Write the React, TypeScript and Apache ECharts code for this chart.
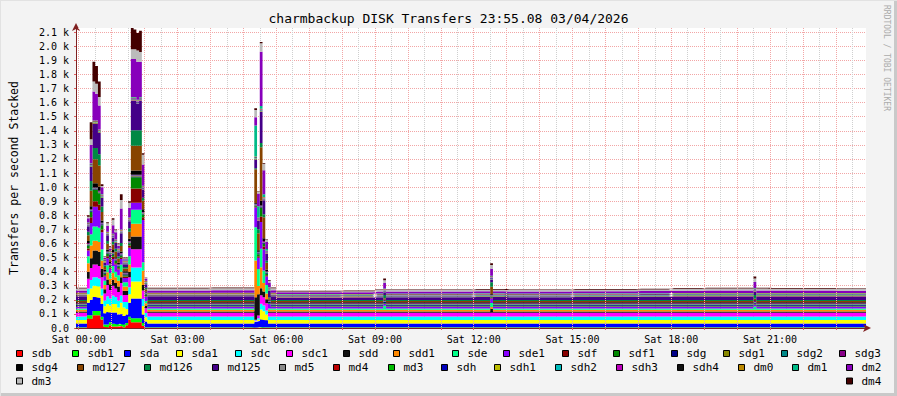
import React, { useEffect, useRef } from "react";
import * as echarts from "echarts";

// ---------------- data ----------------
const TITLE = "charmbackup DISK Transfers 23:55.08 03/04/2026";
const Y_NAME = "Transfers per second Stacked";
const WATERMARK = "RRDTOOL / TOBI OETIKER";

const SERIES_NAMES = [
  "sdb", "sdb1", "sda", "sda1", "sdc", "sdc1", "sdd", "sdd1", "sde", "sde1", "sdf", "sdf1",
  "sdg", "sdg1", "sdg2", "sdg3", "sdg4", "md127", "md126", "md125", "md5", "md4", "md3",
  "sdh", "sdh1", "sdh2", "sdh3", "sdh4", "dm0", "dm1", "dm2", "dm3", "dm4",
];

// typical rate (transfers/s) of each device in the quiet hours
const QUIET_RATE = [
  2, 4, 26, 25, 25, 27, 8, 12, 9, 12, 3, 5,
  6, 3, 3, 6, 6, 10, 7, 24, 3, 2, 2,
  3, 2, 2, 3, 3, 3, 3, 16, 12, 5,
];

// hour-by-hour levels of the upper bands (hour 0..23)
const HOURLY_MD125 = [26, 26, 26, 26, 26, 26, 16, 16, 17, 20, 20, 20, 21, 20, 20, 21, 21, 22, 24, 24, 24, 24, 24, 24];
const HOURLY_DM2 = [16, 16, 16, 16, 17, 17, 12, 12, 12, 14, 14, 14, 15, 14, 14, 15, 15, 15, 16, 17, 17, 17, 17, 16];
const HOURLY_DM3 = [14, 14, 14, 14, 15, 15, 6, 6, 7, 10, 10, 10, 11, 10, 10, 11, 11, 12, 14, 14, 14, 13, 13, 13];

// early-morning burst, 5-minute bins starting at bin 4 (00:15)
const BURST_1_START = 4;
const BURST_1: [string, number[]][] = [
  ["sdb", [70, 66, 90, 90, 90, 60, 10, 5, 20, 10, 10, 10, 15, 5, 20, 60, 40, 40, 40, 40, 16, 2]],
  ["sdb1", [20, 25, 30, 30, 30, 20, 15, 20, 20, 20, 20, 15, 15, 20, 15, 20, 30, 30, 30, 30, 20, 4]],
  ["sda", [90, 110, 100, 100, 95, 90, 80, 90, 70, 80, 80, 70, 70, 60, 60, 100, 140, 140, 140, 140, 60, 40]],
  ["sda1", [60, 80, 80, 80, 80, 60, 50, 55, 50, 60, 60, 50, 80, 60, 40, 60, 120, 120, 120, 120, 60, 30]],
  ["sdc", [40, 60, 60, 60, 56, 50, 40, 55, 50, 60, 50, 50, 50, 40, 50, 50, 100, 100, 100, 100, 50, 30]],
  ["sdc1", [70, 85, 90, 90, 90, 80, 50, 80, 60, 70, 60, 60, 90, 50, 50, 70, 130, 130, 130, 130, 60, 35]],
  ["sdd", [50, 70, 100, 100, 100, 60, 30, 40, 40, 40, 40, 40, 40, 30, 30, 40, 90, 90, 90, 90, 40, 15]],
  ["sdd1", [60, 90, 70, 70, 70, 60, 30, 50, 40, 50, 40, 40, 40, 30, 30, 50, 90, 90, 90, 90, 100, 20]],
  ["sde", [50, 80, 100, 100, 100, 80, 30, 50, 40, 50, 40, 40, 50, 30, 30, 60, 100, 100, 100, 100, 60, 15]],
  ["sde1", [40, 80, 140, 140, 125, 120, 30, 50, 30, 50, 50, 40, 40, 30, 30, 60, 50, 50, 50, 50, 300, 30]],
  ["sdf", [15, 40, 40, 40, 40, 20, 10, 15, 10, 15, 10, 10, 10, 10, 10, 15, 100, 100, 100, 100, 20, 5]],
  ["sdf1", [20, 40, 80, 80, 80, 30, 10, 15, 10, 15, 15, 10, 15, 10, 10, 15, 80, 80, 80, 80, 20, 8]],
  ["sdg4", [15, 20, 30, 30, 30, 15, 10, 15, 10, 15, 10, 10, 10, 10, 10, 15, 30, 30, 30, 30, 20, 8]],
  ["md127", [40, 110, 170, 170, 150, 60, 20, 40, 20, 40, 40, 30, 40, 20, 20, 50, 176, 176, 176, 176, 60, 15]],
  ["md126", [25, 70, 80, 80, 80, 40, 10, 20, 10, 20, 20, 15, 20, 10, 10, 25, 110, 110, 110, 110, 20, 10]],
  ["md125", [40, 100, 170, 170, 150, 60, 20, 40, 25, 30, 40, 30, 70, 20, 20, 50, 210, 210, 190, 210, 60, 25]],
  ["dm2", [30, 130, 206, 190, 170, 50, 10, 40, 15, 60, 50, 20, 150, 10, 10, 70, 270, 270, 270, 250, 150, 15]],
  ["dm3", [10, 40, 70, 70, 60, 10, 6, 20, 10, 40, 15, 10, 60, 6, 6, 35, 70, 70, 80, 70, 70, 8]],
  ["dm4", [11, 120, 140, 126, 110, 11, 5, 6, 6, 11, 6, 6, 41, 5, 5, 11, 150, 140, 125, 150, 10, 1]],
];

// burst around 05:30, bins starting at bin 65
const BURST_2_START = 65;
const BURST_2: [string, number[]][] = [
  ["sdb1", [2, 2, 5, 3, 3, 4]],
  ["sda", [40, 45, 55, 54, 50, 26]],
  ["sda1", [5, 10, 70, 60, 40, 25]],
  ["sdc", [5, 10, 40, 40, 30, 25]],
  ["sdc1", [5, 20, 60, 60, 50, 27]],
  ["sdd", [160, 150, 50, 40, 30, 8]],
  ["sdd1", [260, 60, 150, 60, 40, 12]],
  ["sde", [237, 120, 130, 90, 60, 9]],
  ["sde1", [140, 80, 190, 150, 60, 32]],
  ["sdf", [3, 10, 40, 20, 10, 3]],
  ["sdf1", [5, 15, 60, 20, 10, 5]],
  ["sdg4", [5, 10, 34, 20, 10, 6]],
  ["md127", [240, 120, 380, 150, 50, 10]],
  ["md126", [7, 30, 30, 20, 15, 7]],
  ["md125", [60, 60, 220, 100, 50, 44]],
  ["dm1", [220, 80, 20, 20, 10, 3]],
  ["dm2", [60, 90, 385, 170, 50, 34]],
  ["dm3", [50, 10, 60, 45, 15, 12]],
  ["dm4", [13, 5, 8, 5, 4, 5]],
];

// small single-bin bumps: [bin, device, extra rate]
const SMALL_BURSTS: [number, string, number][] = [
  [112, "sde", 20], [112, "md126", 15], [112, "dm2", 25], [112, "dm3", 10], [112, "dm4", 8],
  [151, "sdd", 20], [151, "sde", 20], [151, "sde1", 20], [151, "md127", 40], [151, "md126", 25],
  [151, "dm2", 35], [151, "dm3", 15], [151, "dm4", 8],
  [247, "sde", 15], [247, "md126", 20], [247, "dm2", 25], [247, "dm3", 12], [247, "dm4", 8],
];

const BIN_COUNT = 288;
const STEP_MINUTES = 5;
const START_MINUTE = -5;
const Y_MAX = 2130;
const Y_STEP = 100;

// ---------------- styles / layout ----------------
const SERIES_COLORS = [
  "#FF0000", "#00FF00", "#0000FF", "#FFFF00", "#00FFFF", "#FF00FF", "#111111", "#FF8800",
  "#00FF88", "#8800FF", "#880000", "#008800", "#000088", "#888800", "#008888", "#880088",
  "#000000", "#884400", "#008844", "#440088", "#888888", "#BB0000", "#00BB00", "#0000BB",
  "#BBBB00", "#00BBBB", "#BB00BB", "#111111", "#BB8800", "#00BB88", "#8800BB", "#BBBBBB",
  "#440000",
];

const LEGEND_ROW_CENTER = [353.5, 367.5, 381];
const LEGEND_LAYOUT: [string, number, number][] = [
  ["sdb", 16, 0], ["sdb1", 72, 0], ["sda", 124, 0], ["sda1", 176, 0], ["sdc", 235, 0], ["sdc1", 286, 0],
  ["sdd", 343, 0], ["sdd1", 393, 0], ["sde", 452, 0], ["sde1", 503, 0], ["sdf", 562, 0], ["sdf1", 613, 0],
  ["sdg", 671, 0], ["sdg1", 723, 0], ["sdg2", 781, 0], ["sdg3", 839, 0],
  ["sdg4", 16, 1], ["md127", 77, 1], ["md126", 144, 1], ["md125", 212, 1], ["md5", 279, 1], ["md4", 333, 1],
  ["md3", 388, 1], ["sdh", 441, 1], ["sdh1", 494, 1], ["sdh2", 555, 1], ["sdh3", 616, 1], ["sdh4", 677, 1],
  ["dm0", 738, 1], ["dm1", 792, 1], ["dm2", 846, 1],
  ["dm3", 16, 2], ["dm4", 846, 2],
];

const FONT = "DejaVu Sans Mono";

function pad2(n: number) {
  return n < 10 ? "0" + n : "" + n;
}

function boundaryLabel(k: number) {
  const m = START_MINUTE + k * STEP_MINUTES;
  const mm = ((m % 1440) + 1440) % 1440;
  const day = m < 0 ? "Fri" : "Sat";
  return `${day} ${pad2(Math.floor(mm / 60))}:${pad2(mm % 60)}`;
}

function buildValues(): number[][] {
  const rows = SERIES_NAMES.map((name, s) => {
    const row: number[] = [];
    for (let i = 0; i < BIN_COUNT; i++) {
      const minute = START_MINUTE + i * STEP_MINUTES;
      const hour = Math.max(0, Math.floor(minute / 60));
      let v = QUIET_RATE[s];
      if (name === "md125") v = HOURLY_MD125[hour];
      if (name === "dm2") v = HOURLY_DM2[hour];
      if (name === "dm3") v = HOURLY_DM3[hour];
      row.push(v);
    }
    return row;
  });
  const idx = (n: string) => SERIES_NAMES.indexOf(n);
  for (const [name, vals] of BURST_1) vals.forEach((v, j) => (rows[idx(name)][BURST_1_START + j] = v));
  for (const [name, vals] of BURST_2) vals.forEach((v, j) => (rows[idx(name)][BURST_2_START + j] = v));
  for (const [bin, name, extra] of SMALL_BURSTS) rows[idx(name)][bin] += extra;
  return rows;
}

function buildOption() {
  const categories = Array.from({ length: BIN_COUNT + 1 }, (_, k) => boundaryLabel(k));
  const values = buildValues();
  const minuteOf = (k: number) => START_MINUTE + k * STEP_MINUTES;

  const series = SERIES_NAMES.map((name, s) => ({
    type: "line",
    name,
    stack: "total",
    step: "end",
    data: values[s].concat([values[s][BIN_COUNT - 1]]),
    showSymbol: false,
    symbol: "none",
    silent: true,
    color: SERIES_COLORS[s],
    itemStyle: { color: SERIES_COLORS[s] },
    lineStyle: { width: 0 },
    areaStyle: { color: SERIES_COLORS[s], opacity: 1 },
    xAxisIndex: 0,
    yAxisIndex: 0,
    z: 3,
  }));

  const legends = LEGEND_LAYOUT.map(([name, x, row]) => ({
    data: [name],
    left: x,
    top: LEGEND_ROW_CENTER[row] - 7,
    padding: 0,
    itemWidth: 6,
    itemHeight: 6,
    icon: "rect",
    selectedMode: false,
    itemStyle: { borderColor: "#000000", borderWidth: 1 },
    textStyle: { fontFamily: FONT, fontSize: 11, color: "#000000", lineHeight: 14, padding: [0, 0, 0, 4] },
  }));

  const axisColor = "#7F1F1F";

  return {
    animation: false,
    backgroundColor: "#F3F3F3",
    title: {
      text: TITLE,
      left: "center",
      top: 12,
      padding: 0,
      textStyle: { fontFamily: FONT, fontSize: 13, fontWeight: "normal", color: "#000000" },
    },
    legend: legends,
    grid: {
      left: 67,
      right: 31,
      top: 28,
      bottom: 68,
      show: true,
      backgroundColor: "#FFFFFF",
      borderWidth: 0,
    },
    xAxis: [
      {
        type: "category",
        data: categories,
        boundaryGap: false,
        axisLine: {
          show: true,
          lineStyle: { color: axisColor, width: 1 },
          symbol: ["none", "arrow"],
          symbolSize: [6, 8],
          symbolOffset: [0, 5],
        },
        axisTick: {
          show: true,
          length: 2,
          interval: (k: number) => minuteOf(k) % 60 === 0,
          lineStyle: { color: "#E06060" },
        },
        axisLabel: {
          interval: (k: number) => minuteOf(k) % 180 === 0,
          fontFamily: FONT,
          fontSize: 10,
          color: "#000000",
          margin: 6,
        },
        splitLine: {
          show: true,
          interval: (k: number) => minuteOf(k) % 60 === 0,
          lineStyle: { color: "#F2A6A6", type: [1, 1], width: 1 },
        },
        z: 5,
      },
      {
        type: "category",
        data: categories,
        boundaryGap: false,
        position: "bottom",
        axisLine: { show: false },
        axisTick: { show: false },
        axisLabel: { show: false },
        splitLine: {
          show: true,
          interval: (k: number) => minuteOf(k) % 30 === 0 && minuteOf(k) % 60 !== 0,
          lineStyle: { color: "#CFCFCF", type: [1, 1], width: 1 },
        },
      },
    ],
    yAxis: {
      type: "value",
      min: 0,
      max: Y_MAX,
      interval: Y_STEP,
      name: Y_NAME,
      nameLocation: "middle",
      nameGap: 56,
      nameTextStyle: { fontFamily: FONT, fontSize: 11.5, color: "#000000" },
      axisLine: {
        show: true,
        lineStyle: { color: axisColor, width: 1 },
        symbol: ["none", "arrow"],
        symbolSize: [6, 8],
        symbolOffset: [0, 5],
      },
      axisTick: { show: true, length: 2, lineStyle: { color: "#E06060" } },
      axisLabel: {
        fontFamily: FONT,
        fontSize: 10,
        color: "#000000",
        margin: 7,
        showMaxLabel: false,
        formatter: (v: number) =>
          v === 0 ? "0.0" : v % Y_STEP === 0 ? (v / 1000).toFixed(1) + " k" : "",
      },
      splitLine: {
        show: true,
        showMaxLine: false,
        lineStyle: { color: "#F2A6A6", type: [1, 1], width: 1 },
      },
    },
    graphic: [
      {
        type: "text",
        x: 886,
        y: 5,
        rotation: -Math.PI / 2,
        style: {
          text: WATERMARK,
          fontFamily: FONT,
          fontSize: 8,
          fill: "#ABABAB",
          textAlign: "left",
          textVerticalAlign: "middle",
        },
        silent: true,
      },
      { type: "rect", shape: { x: 894, y: 0, width: 3, height: 396 }, style: { fill: "#C9C9C9" }, silent: true },
      { type: "rect", shape: { x: 0, y: 393, width: 897, height: 3 }, style: { fill: "#C9C9C9" }, silent: true },
      { type: "rect", shape: { x: 0, y: 0, width: 897, height: 1 }, style: { fill: "#E2E2E2" }, silent: true },
      { type: "rect", shape: { x: 0, y: 0, width: 1, height: 396 }, style: { fill: "#E2E2E2" }, silent: true },
    ],
    series,
  };
}

export default function App() {
  const ref = useRef<HTMLDivElement>(null);
  useEffect(() => {
    if (!ref.current) return;
    const chart = echarts.init(ref.current, undefined, { renderer: "svg", width: 897, height: 396 });
    chart.setOption(buildOption() as any);
    return () => chart.dispose();
  }, []);
  return (
    <div
      ref={ref}
      style={{ position: "fixed", left: 0, top: 0, width: 897, height: 396 }}
    />
  );
}
